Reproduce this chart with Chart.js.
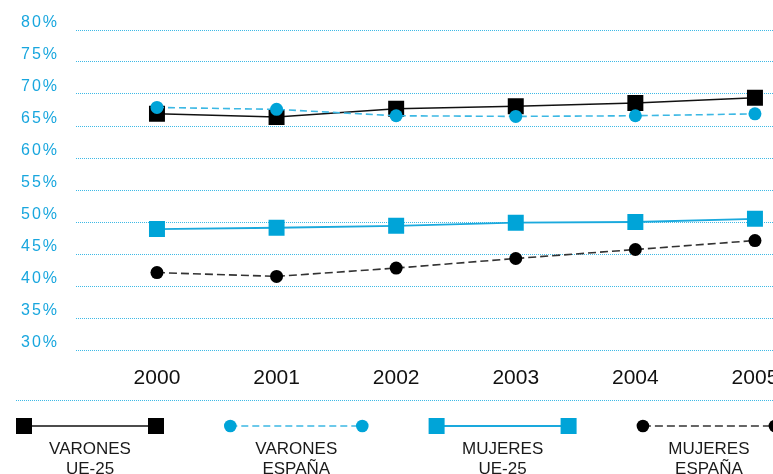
<!DOCTYPE html>
<html>
<head>
<meta charset="utf-8">
<script src="https://cdn.jsdelivr.net/npm/chart.js@4.4.1/dist/chart.umd.min.js"></script>
<style>
  html, body { margin: 0; padding: 0; background: #fff; overflow: hidden; }
</style>
</head>
<body>
<canvas id="line-chart" width="830" height="474"></canvas>
<script>
// Years on the x axis and the y tick values (percent)
const years = [2000, 2001, 2002, 2003, 2004, 2005];
const yTicks = [30, 35, 40, 45, 50, 55, 60, 65, 70, 75, 80];

// Employment rates
const varonesUE = [66.9, 66.4, 67.7, 68.1, 68.6, 69.4];
const varonesEsp = [67.9, 67.6, 66.6, 66.5, 66.6, 66.9];
const mujeresUE = [48.9, 49.1, 49.4, 49.9, 50.0, 50.5];
const mujeresEsp = [42.1, 41.5, 42.8, 44.3, 45.7, 47.1];

// Legend labels, two lines each
const seriesLabels = [
  ['VARONES', 'UE-25'],
  ['VARONES', 'ESPAÑA'],
  ['MUJERES', 'UE-25'],
  ['MUJERES', 'ESPAÑA'],
];

const FONT = '"Liberation Sans", Arial, Helvetica, sans-serif';
const BLUE = '#00a4d8';
const GRID = '#3db9e6';

const toPoints = values => values.map((v, i) => ({ x: years[i], y: v }));

// Draws the two-line legend under the chart and the dotted rule above it
const legendPlugin = {
  id: 'twoLineLegend',
  beforeDraw(chart) {
    chart.ctx.letterSpacing = '2px'; // wide y tick labels
  },
  beforeDatasetsDraw(chart) {
    chart.ctx.letterSpacing = '0px';
  },
  afterDraw(chart) {
    const ctx = chart.ctx;
    ctx.save();
    ctx.letterSpacing = '0px';

    // dotted rule
    ctx.beginPath();
    ctx.setLineDash([1, 1]);
    ctx.strokeStyle = GRID;
    ctx.lineWidth = 1;
    ctx.moveTo(16, 400.5);
    ctx.lineTo(chart.width, 400.5);
    ctx.stroke();

    chart.data.datasets.forEach((ds, i) => {
      const cx = 90 + i * 206.3;
      const x0 = cx - 66;
      const x1 = cx + 66;
      const y = 426;

      ctx.beginPath();
      ctx.setLineDash(ds.borderDash || []);
      ctx.strokeStyle = ds.borderColor;
      ctx.lineWidth = ds.borderWidth;
      ctx.moveTo(x0, y);
      ctx.lineTo(x1, y);
      ctx.stroke();
      ctx.setLineDash([]);

      ctx.fillStyle = ds.pointBackgroundColor;
      [x0, x1].forEach(px => {
        if (ds.pointStyle === 'rect') {
          ctx.fillRect(px - 8, y - 8, 16, 16);
        } else {
          ctx.beginPath();
          ctx.arc(px, y, 6.3, 0, Math.PI * 2);
          ctx.fill();
        }
      });

      ctx.fillStyle = '#1a1a1a';
      ctx.font = '17px ' + FONT;
      ctx.textAlign = 'center';
      ctx.textBaseline = 'middle';
      seriesLabels[i].forEach((line, j) => ctx.fillText(line, cx, 449 + j * 20));
    });
    ctx.restore();
  }
};

const ctx = document.getElementById('line-chart').getContext('2d');
new Chart(ctx, {
  type: 'line',
  data: {
    datasets: [
      {
        label: seriesLabels[0].join(' '),
        data: toPoints(varonesUE),
        borderColor: '#111',
        borderWidth: 1.5,
        pointStyle: 'rect',
        pointRadius: 11.3,
        pointBackgroundColor: '#000',
        pointBorderWidth: 0,
        order: 1,
      },
      {
        label: seriesLabels[1].join(' '),
        data: toPoints(varonesEsp),
        borderColor: '#3cb8e4',
        borderWidth: 1.6,
        borderDash: [7, 4],
        pointStyle: 'circle',
        pointRadius: 6.5,
        pointBackgroundColor: BLUE,
        pointBorderWidth: 0,
        order: 0,
      },
      {
        label: seriesLabels[2].join(' '),
        data: toPoints(mujeresUE),
        borderColor: '#1aa9dd',
        borderWidth: 1.8,
        pointStyle: 'rect',
        pointRadius: 11.3,
        pointBackgroundColor: BLUE,
        pointBorderWidth: 0,
        order: 1,
      },
      {
        label: seriesLabels[3].join(' '),
        data: toPoints(mujeresEsp),
        borderColor: '#333',
        borderWidth: 1.6,
        borderDash: [8, 4],
        pointStyle: 'circle',
        pointRadius: 6.5,
        pointBackgroundColor: '#000',
        pointBorderWidth: 0,
        order: 1,
      },
    ],
  },
  options: {
    responsive: false,
    animation: false,
    events: [],
    layout: { padding: { top: 30, bottom: 74, left: 0, right: 0 } },
    plugins: {
      legend: { display: false },
      tooltip: { enabled: false },
    },
    scales: {
      x: {
        type: 'linear',
        min: 1999.323,
        max: 2005.533,
        afterBuildTicks: axis => { axis.ticks = years.map(v => ({ value: v })); },
        afterFit: axis => { axis.height = 50; },
        grid: { display: false, drawTicks: false },
        border: { display: false },
        ticks: {
          z: 1, // drawn after the datasets, without letter spacing
          color: '#111',
          font: { family: FONT, size: 21 },
          padding: 16,
          maxRotation: 0,
          autoSkip: false,
          callback: v => String(v),
        },
      },
      y: {
        min: 30,
        max: 80,
        afterBuildTicks: axis => { axis.ticks = yTicks.map(v => ({ value: v })); },
        afterFit: axis => { axis.width = 76; },
        grid: { color: GRID, lineWidth: 1, drawTicks: false },
        border: { display: false, dash: [1, 1] },
        ticks: {
          color: '#18a6de',
          font: { family: FONT, size: 16 },
          padding: 17,
          labelOffset: -7,
          callback: v => v + '%',
        },
      },
    },
  },
  plugins: [legendPlugin],
});
</script>
</body>
</html>
